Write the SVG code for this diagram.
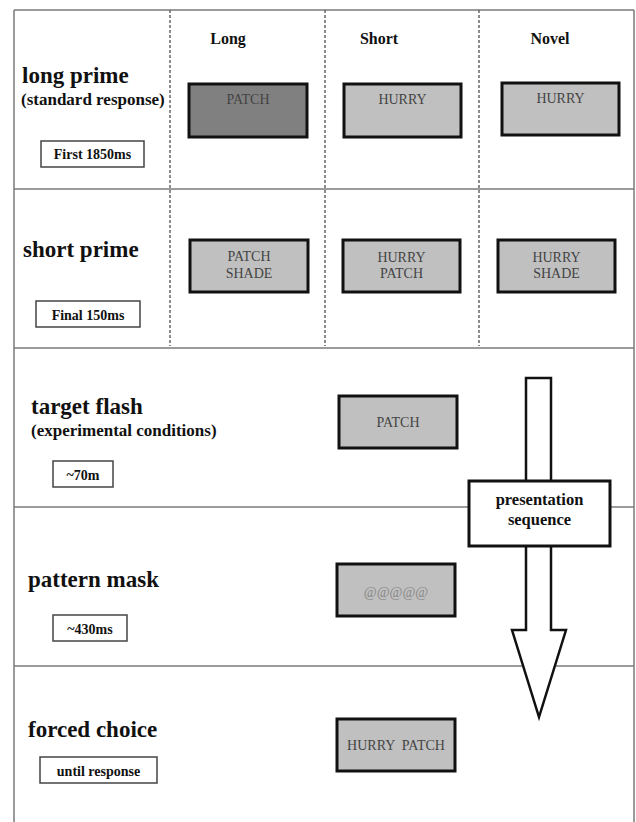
<svg xmlns="http://www.w3.org/2000/svg" width="636" height="822" viewBox="0 0 636 822">
<style>
.grid{stroke:#7a7a7a;stroke-width:1.5;fill:none}
.dash{stroke:#666;stroke-width:1.5;stroke-dasharray:3 2;fill:none}
.title{font-family:"Liberation Serif",serif;font-weight:bold;font-size:23px;fill:#111}
.sub{font-family:"Liberation Serif",serif;font-weight:bold;font-size:17px;fill:#111}
.hdr{font-family:"Liberation Serif",serif;font-weight:bold;font-size:16px;fill:#111;text-anchor:middle}
.tbox{fill:#fff;stroke:#444;stroke-width:1.5}
.tlab{font-family:"Liberation Serif",serif;font-weight:bold;font-size:14px;fill:#111;text-anchor:middle}
.stim{fill:#c0c0c0;stroke:#111;stroke-width:3}
.stimd{fill:#808080;stroke:#111;stroke-width:3}
.word{font-family:"Liberation Serif",serif;font-size:14px;fill:#444;text-anchor:middle}
.arrow{fill:#fff;stroke:#111;stroke-width:2.5;stroke-linejoin:miter}
.seq{font-family:"Liberation Serif",serif;font-weight:bold;font-size:16.5px;fill:#111;text-anchor:middle}
</style>
<rect width="636" height="822" fill="#fff"/>
<g id="grid">
<line class="grid" x1="14" y1="10" x2="14" y2="822"/>
<line class="grid" x1="634" y1="10" x2="634" y2="822"/>
<line class="grid" x1="14" y1="10" x2="634" y2="10"/>
<line class="grid" x1="14" y1="189" x2="634" y2="189"/>
<line class="grid" x1="14" y1="348" x2="634" y2="348"/>
<line class="grid" x1="14" y1="507" x2="634" y2="507"/>
<line class="grid" x1="14" y1="666" x2="634" y2="666"/>
<line class="dash" x1="170" y1="10" x2="170" y2="346"/>
<line class="dash" x1="325" y1="10" x2="325" y2="346"/>
<line class="dash" x1="479" y1="10" x2="479" y2="346"/>
</g>
<g id="headers">
<text class="hdr" x="228" y="44">Long</text>
<text class="hdr" x="379" y="44">Short</text>
<text class="hdr" x="550" y="44">Novel</text>
</g>
<g id="row-long-prime">
<text class="title" x="22" y="83">long prime</text>
<text class="sub" x="21" y="105">(standard response)</text>
<rect class="tbox" x="41" y="141" width="103" height="26"/>
<text class="tlab" x="92.5" y="159">First 1850ms</text>
</g>
<g id="lp-long"><rect class="stimd" x="189" y="84" width="118" height="53"/><text class="word" x="248" y="104">PATCH</text></g>
<g id="lp-short"><rect class="stim" x="344" y="84" width="117" height="53"/><text class="word" x="402.5" y="104">HURRY</text></g>
<g id="lp-novel"><rect class="stim" x="502" y="83" width="117" height="52"/><text class="word" x="560.5" y="103">HURRY</text></g>
<g id="row-short-prime">
<text class="title" x="23" y="257">short prime</text>
<rect class="tbox" x="36" y="301" width="104" height="26"/>
<text class="tlab" x="88" y="320">Final 150ms</text>
</g>
<g id="sp-long"><rect class="stim" x="190" y="240" width="118" height="52"/><text class="word" x="249" y="261">PATCH</text><text class="word" x="249" y="278">SHADE</text></g>
<g id="sp-short"><rect class="stim" x="343" y="240" width="117" height="52"/><text class="word" x="401.5" y="262">HURRY</text><text class="word" x="401.5" y="278">PATCH</text></g>
<g id="sp-novel"><rect class="stim" x="498" y="240" width="117" height="52"/><text class="word" x="556.5" y="262">HURRY</text><text class="word" x="556.5" y="278">SHADE</text></g>
<g id="row-target">
<text class="title" x="31" y="414">target flash</text>
<text class="sub" x="31" y="436">(experimental conditions)</text>
<rect class="tbox" x="53" y="461" width="60" height="26"/>
<text class="tlab" x="83" y="480">~70m</text>
</g>
<g id="target-stim"><rect class="stim" x="339" y="396" width="118" height="52"/><text class="word" x="398" y="427">PATCH</text></g>
<g id="row-mask">
<text class="title" x="28" y="587">pattern mask</text>
<rect class="tbox" x="53" y="615" width="74" height="26"/>
<text class="tlab" x="90" y="634">~430ms</text>
</g>
<g id="mask-stim"><rect class="stim" x="337" y="564" width="118" height="52"/><text class="word" x="396" y="597" style="fill:#888">@@@@@</text></g>
<g id="row-choice">
<text class="title" x="28" y="737">forced choice</text>
<rect class="tbox" x="40" y="757" width="117" height="26"/>
<text class="tlab" x="98.5" y="776">until response</text>
</g>
<g id="choice-stim"><rect class="stim" x="337" y="719" width="118" height="52"/><text class="word" x="396" y="750" xml:space="preserve">HURRY  PATCH</text></g>
<g id="connectors">
<polygon class="arrow" points="526,378 551,378 551,630 566,630 539,717 512,630 526,630"/>
</g>
<g id="presentation-sequence">
<rect x="469" y="481" width="141" height="65" fill="#fff" stroke="#111" stroke-width="3"/>
<text class="seq" x="539.5" y="505">presentation</text>
<text class="seq" x="539.5" y="525">sequence</text>
</g>
</svg>
